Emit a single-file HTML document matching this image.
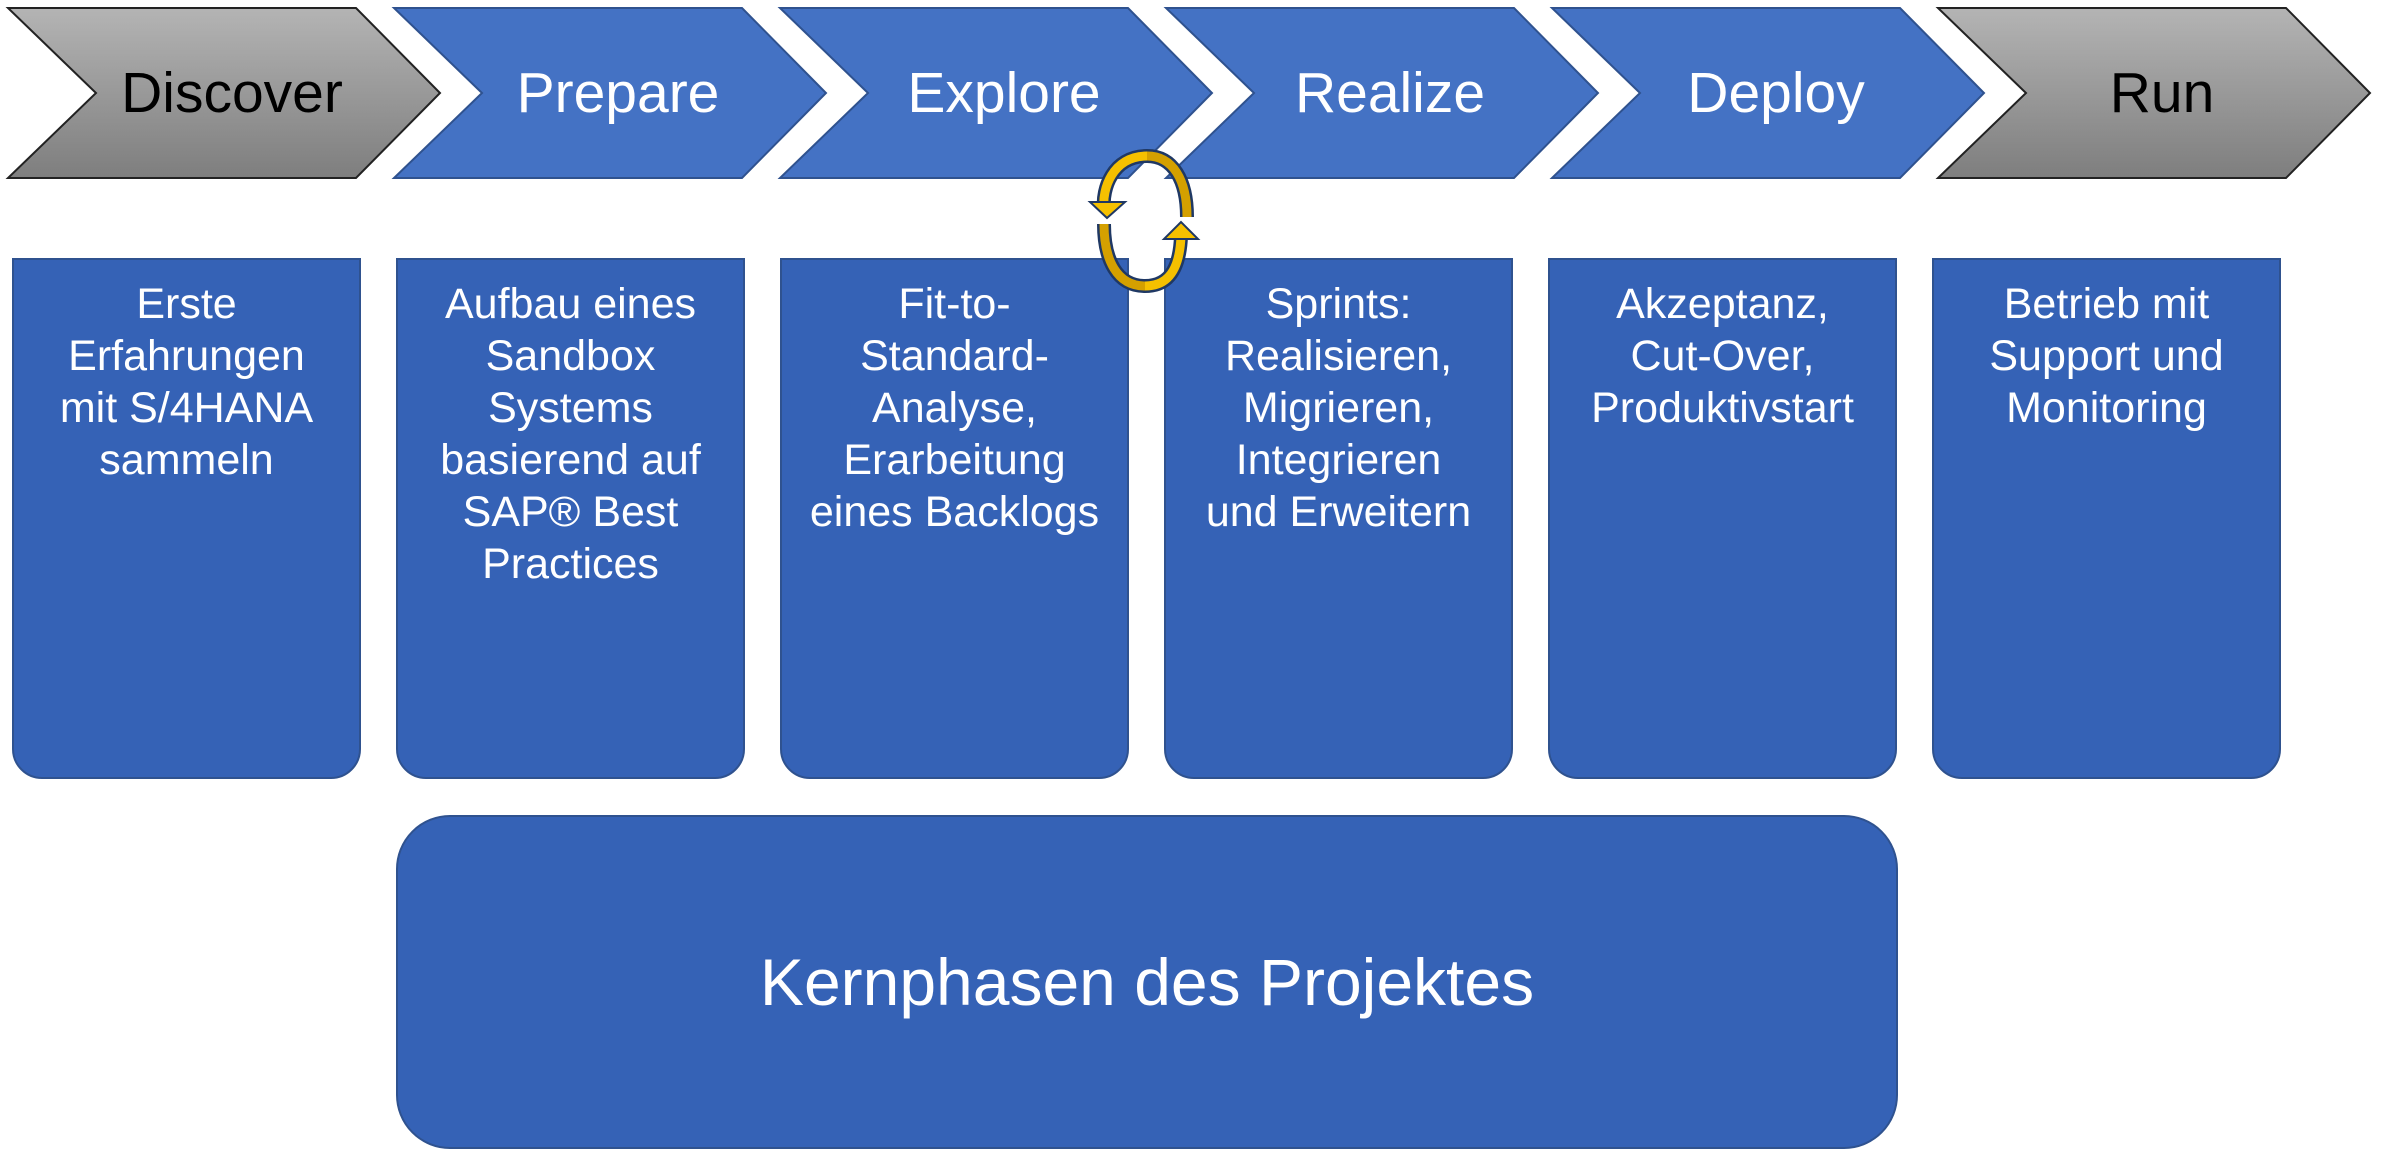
<!DOCTYPE html>
<html><head><meta charset="utf-8"><style>
body{margin:0;width:2381px;height:1160px;background:#fff;position:relative;overflow:hidden;font-family:"Liberation Sans",sans-serif}
.box{position:absolute;top:258px;width:349px;height:521px;background:#3562b6;border:2px solid #2f528f;box-sizing:border-box;border-radius:0 0 30px 30px;color:#fff;font-size:43px;line-height:52px;text-align:center;padding-top:18px;white-space:nowrap}
.big{position:absolute;left:396px;top:815px;width:1502px;height:334px;background:#3562b6;border:2px solid #2f528f;box-sizing:border-box;border-radius:54px;color:#fff;font-size:66px;display:flex;align-items:center;justify-content:center}
svg{position:absolute;left:0;top:0}
</style></head><body>
<svg width="2381" height="1160">
<defs>
<linearGradient id="g" x1="0" y1="0" x2="0" y2="1"><stop offset="0" stop-color="#b4b4b4"/><stop offset="1" stop-color="#7e7e7e"/></linearGradient>
</defs>
<polygon points="8,8 356,8 440,93 356,178 8,178 96,93" fill="url(#g)" stroke="#222" stroke-width="2"/>
<polygon points="394,8 742,8 826,93 742,178 394,178 482,93" fill="#4472c4" stroke="#2f528f" stroke-width="2"/>
<polygon points="780,8 1128,8 1212,93 1128,178 780,178 868,93" fill="#4472c4" stroke="#2f528f" stroke-width="2"/>
<polygon points="1166,8 1514,8 1598,93 1514,178 1166,178 1254,93" fill="#4472c4" stroke="#2f528f" stroke-width="2"/>
<polygon points="1552,8 1900,8 1984,93 1900,178 1552,178 1640,93" fill="#4472c4" stroke="#2f528f" stroke-width="2"/>
<polygon points="1938,8 2286,8 2370,93 2286,178 1938,178 2026,93" fill="url(#g)" stroke="#222" stroke-width="2"/>
<g font-size="57" text-anchor="middle" font-family="Liberation Sans,sans-serif">
<text x="232" y="112" fill="#000">Discover</text>
<text x="618" y="112" fill="#fff">Prepare</text>
<text x="1004" y="112" fill="#fff">Explore</text>
<text x="1390" y="112" fill="#fff">Realize</text>
<text x="1776" y="112" fill="#fff">Deploy</text>
<text x="2162" y="112" fill="#000">Run</text>
</g>
</svg>
<div class="box" style="left:12px">Erste<br>Erfahrungen<br>mit S/4HANA<br>sammeln</div>
<div class="box" style="left:396px">Aufbau eines<br>Sandbox<br>Systems<br>basierend auf<br>SAP® Best<br>Practices</div>
<div class="box" style="left:780px">Fit-to-<br>Standard-<br>Analyse,<br>Erarbeitung<br>eines Backlogs</div>
<div class="box" style="left:1164px">Sprints:<br>Realisieren,<br>Migrieren,<br>Integrieren<br>und Erweitern</div>
<div class="box" style="left:1548px">Akzeptanz,<br>Cut-Over,<br>Produktivstart</div>
<div class="box" style="left:1932px">Betrieb mit<br>Support und<br>Monitoring</div>
<div class="big">Kernphasen des Projektes</div>
<svg width="2381" height="1160">
<g fill="none" stroke-linecap="butt">
<path d="M1147,156 C1112,156 1102,190 1104,208" stroke="#1f3864" stroke-width="14"/>
<path d="M1147,156 C1112,156 1102,190 1104,208" stroke="#f5c000" stroke-width="9"/>
<path d="M1104,224 C1104,260 1117,286 1145,286" stroke="#1f3864" stroke-width="14"/>
<path d="M1104,224 C1104,260 1117,286 1145,286" stroke="#d4a000" stroke-width="9"/>
<path d="M1145,286 C1173,286 1180,262 1181,236" stroke="#1f3864" stroke-width="14"/>
<path d="M1145,286 C1173,286 1180,262 1181,236" stroke="#f5c000" stroke-width="9"/>
<path d="M1187,217 C1187,180 1173,156 1147,156" stroke="#1f3864" stroke-width="14"/>
<path d="M1187,217 C1187,180 1173,156 1147,156" stroke="#d4a000" stroke-width="9"/>
</g>
<polygon points="1090,202 1125,202 1107,218" fill="#f5c000" stroke="#1f3864" stroke-width="2"/>
<polygon points="1164,239 1198,239 1181,222" fill="#f5c000" stroke="#1f3864" stroke-width="2"/>
</svg>
</body></html>
